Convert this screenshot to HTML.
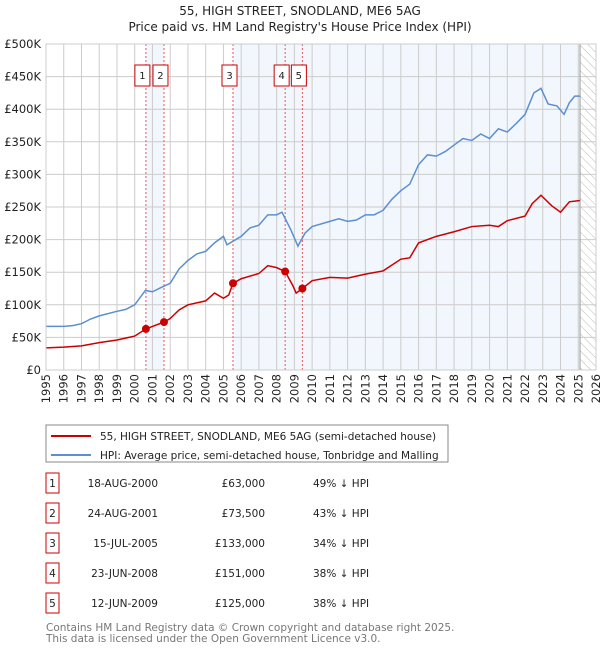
<!DOCTYPE html>
<html><head><meta charset="utf-8"><style>
body{margin:0;background:#fff;font-family:"Liberation Sans","DejaVu Sans",sans-serif;}
svg text{font-family:"DejaVu Sans","Liberation Sans",sans-serif;}
</style></head><body>
<svg id="c" width="600" height="650" xmlns="http://www.w3.org/2000/svg">
<text x="300" y="15" text-anchor="middle" font-size="12" fill="#222">55, HIGH STREET, SNODLAND, ME6 5AG</text>
<text x="300" y="31" text-anchor="middle" font-size="12" fill="#222">Price paid vs. HM Land Registry's House Price Index (HPI)</text>
<defs><pattern id="hatch" width="6" height="6" patternUnits="userSpaceOnUse" patternTransform="rotate(-45)"><line x1="0" y1="0" x2="0" y2="6" stroke="#bbb" stroke-width="1"/></pattern></defs>
<g id="plot"></g>
<g>
<rect x="46" y="425" width="402" height="37" fill="#fff" stroke="#888"/>
<line x1="51" y1="436" x2="91" y2="436" stroke="#cc0000" stroke-width="2"/>
<text x="100" y="440" font-size="10.5" fill="#222">55, HIGH STREET, SNODLAND, ME6 5AG (semi-detached house)</text>
<line x1="51" y1="455" x2="91" y2="455" stroke="#5b8fd0" stroke-width="2"/>
<text x="100" y="459" font-size="10.5" fill="#222">HPI: Average price, semi-detached house, Tonbridge and Malling</text>
</g>
<g id="table" font-size="10.5" fill="#222"></g>
<text x="46" y="631" font-size="10.5" fill="#777">Contains HM Land Registry data © Crown copyright and database right 2025.</text>
<text x="46" y="642" font-size="10.5" fill="#777">This data is licensed under the Open Government Licence v3.0.</text>
</svg>
<script>
const yTicks=[0,50,100,150,200,250,300,350,400,450,500];
const yTickLabels=["£0","£50K","£100K","£150K","£200K","£250K","£300K","£350K","£400K","£450K","£500K"];
const xYears=[1995,1996,1997,1998,1999,2000,2001,2002,2003,2004,2005,2006,2007,2008,2009,2010,2011,2012,2013,2014,2015,2016,2017,2018,2019,2020,2021,2022,2023,2024,2025,2026];
const hpiT=[1995,1996,1996.5,1997,1997.5,1998,1999,1999.5,2000,2000.6,2001,2001.6,2002,2002.5,2003,2003.5,2004,2004.5,2005,2005.2,2006,2006.5,2007,2007.5,2008,2008.3,2008.8,2009.2,2009.6,2010,2011,2011.5,2012,2012.5,2013,2013.5,2014,2014.5,2015,2015.5,2016,2016.5,2017,2017.5,2018,2018.5,2019,2019.5,2020,2020.5,2021,2021.5,2022,2022.5,2022.9,2023.3,2023.8,2024.2,2024.5,2024.8,2025.1];
const hpiV=[67,67,68,71,78,83,90,93,100,122,120,128,133,155,168,178,182,195,205,192,205,218,222,238,238,242,215,190,210,220,228,232,228,230,238,238,245,262,275,285,315,330,328,335,345,355,352,362,355,370,365,378,392,425,432,408,405,392,410,420,420];
const ppT=[1995,1996,1997,1998,1999,2000,2000.63,2001.65,2002,2002.5,2003,2004,2004.5,2005,2005.3,2005.54,2006,2007,2007.5,2008,2008.48,2008.9,2009.1,2009.45,2010,2011,2012,2013,2014,2015,2015.5,2016,2017,2018,2019,2020,2020.5,2021,2022,2022.4,2022.9,2023.5,2024,2024.5,2025.1];
const ppV=[34,35,37,42,46,52,63,73.5,79,92,100,106,118,110,115,133,140,148,160,157,151,130,118,125,137,142,141,147,152,170,172,195,205,212,220,222,220,229,236,255,268,252,242,258,260];
const saleLabels=["1","2","3","4","5"];
const saleT=[2000.63,2001.65,2005.54,2008.48,2009.45];
const saleV=[63,73.5,133,151,125];
const saleDates=["18-AUG-2000","24-AUG-2001","15-JUL-2005","23-JUN-2008","12-JUN-2009"];
const salePrices=["£63,000","£73,500","£133,000","£151,000","£125,000"];
const salePct=["49% ↓ HPI","43% ↓ HPI","34% ↓ HPI","38% ↓ HPI","38% ↓ HPI"];
const endT=2025.1;

const X0=46,X1=596,Y0=370,Y1=44;
const x=t=>X0+(t-1995)/(2026-1995)*(X1-X0);
const y=v=>Y0-v/500*(Y0-Y1);
const NS="http://www.w3.org/2000/svg";
const plot=document.getElementById('plot');
function mk(tag,attrs,parent){const e=document.createElementNS(NS,tag);for(const k in attrs)e.setAttribute(k,attrs[k]);(parent||plot).appendChild(e);return e;}
let r=mk('rect',{x:x(saleT[0]),y:Y1,width:x(saleT[1])-x(saleT[0]),height:Y0-Y1,fill:'#f2f6fd'});


r=mk('rect',{x:x(saleT[2]),y:Y1,width:x(endT)-x(saleT[2]),height:Y0-Y1,fill:'#f2f6fd'});


r=mk('rect',{x:x(endT),y:Y1,width:X1-x(endT),height:Y0-Y1,fill:'url(#hatch)'});


yTicks.forEach((v,i)=>{
 let l=mk('line',{x1:X0,x2:X1,y1:y(v),y2:y(v),stroke:'#ccc','stroke-width':1});
 
 
 let t=mk('text',{x:X0-5,y:y(v)+4,'text-anchor':'end','font-size':11.5,fill:'#222'});
 t.textContent=yTickLabels[i];
 
 
});
xYears.forEach(yr=>{
 let l=mk('line',{x1:x(yr),x2:x(yr),y1:Y1,y2:Y0,stroke:'#ccc','stroke-width':1});
 
 
 let t=mk('text',{x:0,y:0,'text-anchor':'end','font-size':11.5,fill:'#222',transform:`translate(${x(yr)+4},${Y0+4}) rotate(-90)`});
 t.textContent=yr;
 
 
});
let el=mk('line',{x1:x(endT),x2:x(endT),y1:Y1,y2:Y0,stroke:'#999','stroke-width':1});


saleT.forEach((t,i)=>{
 let l=mk('line',{x1:x(t),x2:x(t),y1:Y1,y2:Y0,stroke:'#ee5555','stroke-width':1,'stroke-dasharray':'2,2'});
 
 
});
let p=mk('polyline',{points:hpiT.map((t,i)=>x(t)+','+y(hpiV[i])).join(' '),fill:'none',stroke:'#5b8fd0','stroke-width':1.5});


p=mk('polyline',{points:ppT.map((t,i)=>x(t)+','+y(ppV[i])).join(' '),fill:'none',stroke:'#cc0000','stroke-width':1.5});


saleT.forEach((t,i)=>{
 let c=mk('circle',{cx:x(t),cy:y(saleV[i]),r:4,fill:'#cc0000'});
 
 
 const bx=x(t)-11;
 let b=mk('rect',{x:bx,y:65,width:15,height:21,fill:'#fff',stroke:'#cc0000'});
 
 
 let tx=mk('text',{x:bx+7.5,y:79,'text-anchor':'middle','font-size':10,fill:'#222'});
 tx.textContent=saleLabels[i];
 
 
});
let ax=mk('rect',{x:X0,y:Y1,width:X1-X0,height:Y0-Y1,fill:'none',stroke:'#ccc'});


const tb=document.getElementById('table');
saleLabels.forEach((s,i)=>{
 const ry=483+i*30;
 let b=mk('rect',{x:46,y:ry-10,width:13,height:20,fill:'none',stroke:'#cc0000'},tb);
 
 
 let t=mk('text',{x:52.5,y:ry+4,'text-anchor':'middle'},tb);t.textContent=s;
 
 
 t=mk('text',{x:158,y:ry+4,'text-anchor':'end'},tb);t.textContent=saleDates[i];
 
 
 t=mk('text',{x:265,y:ry+4,'text-anchor':'end'},tb);t.textContent=salePrices[i];
 
 
 t=mk('text',{x:313,y:ry+4},tb);t.textContent=salePct[i];
 
 
});
</script>
</body></html>
